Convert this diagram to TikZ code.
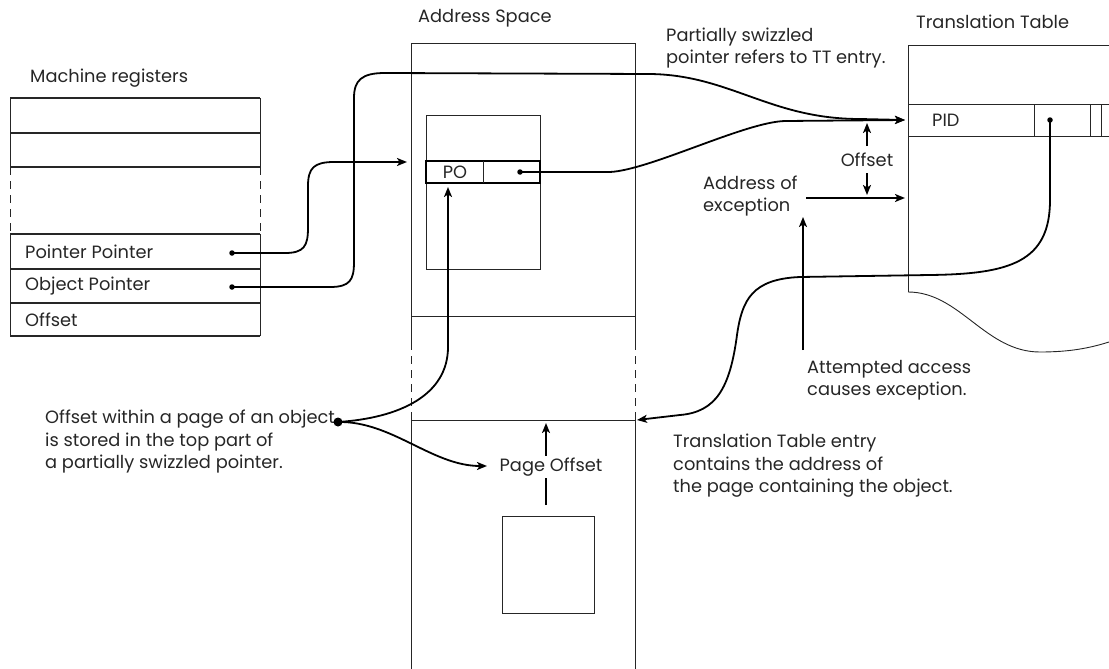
\documentclass[tikz,border=0pt]{standalone}
\usepackage{fontspec}
\setmainfont{Poppins}
\usetikzlibrary{arrows.meta}
\begin{document}
\begin{tikzpicture}[x=1pt,y=-1pt,
  box/.style={line width=0.9pt, draw=black!85},
  thickbox/.style={line width=1.3pt, draw=black},
  dashbox/.style={box, dash pattern=on 8pt off 6pt},
  conn/.style={line width=1.8pt, draw=black},
  arr/.style={conn, -{Stealth[length=10pt,width=8pt,inset=2.5pt]}},
  lbl/.style={font=\fontsize{17.8}{22.5}\selectfont, inner sep=0pt, text=black!85, align=left},
  dot/.style={circle, fill=black, inner sep=0pt, minimum size=5.5pt},
  bigdot/.style={circle, fill=black, inner sep=0pt, minimum size=9pt}
]
\useasboundingbox (0,0) rectangle (1109,669);

% ---------- Machine registers ----------
\node[lbl, anchor=west] (mrtitle) at (30,78) {Machine registers};
\foreach \yy in {98,133,167,234,269,303,336} \draw[box, line width=1.1pt] (10,\yy) -- (260,\yy);
\draw[box] (10,98) -- (10,167) (260,98) -- (260,167) (10,234) -- (10,336) (260,234) -- (260,336);
\draw[dashbox] (10,167) -- (10,234) (260,167) -- (260,234);
\node[lbl, anchor=west] (rpp) at (25,252) {Pointer Pointer};
\node[lbl, anchor=west] (rop) at (25,286) {Object Pointer};
\node[lbl, anchor=west] (roff) at (25,320) {Offset};
\node[dot] (pp) at (232,253) {};
\node[dot] (op) at (232,287) {};

% ---------- Address space ----------
\node[lbl, anchor=west] (astitle) at (418,18) {Address Space};
\draw[box] (411,669) -- (411,420) (411,342) -- (411,43) -- (635,43) -- (635,342) (635,420) -- (635,669);
\draw[dashbox] (411,342) -- (411,420) (635,342) -- (635,420);
\draw[box] (411,316) -- (635,316) (411,420) -- (635,420);
% object
\draw[box] (426,115) rectangle (540,269);
\draw[thickbox] (426,161) rectangle (540,183);
\draw[box] (483,161) -- (483,183);
\node[lbl] (potext) at (455,172) {PO};
\node[dot] (podot) at (520,172) {};
% page box
\draw[box] (502,516) rectangle (594,613);
\coordinate (pgtop) at (546,423);
\draw[arr] (546,505) -- (pgtop);
\node[lbl, fill=white, inner sep=1.5pt] (pgoff) at (551,467) {Page Offset};

% ---------- Translation table ----------
\node[lbl, anchor=west] (tttitle) at (916,22) {Translation Table};
\draw[box] (1109,45) -- (908,45) -- (908,292);
\draw[box] (908,292) .. controls (960,292) and (985,352) .. (1040,352) .. controls (1070,352) and (1090,348) .. (1109,342);
\draw[box] (908,104) -- (1109,104) (908,136) -- (1109,136);
\draw[box] (1034,104) -- (1034,136) (1090,104) -- (1090,136) (1101,104) -- (1101,136);
\node[lbl, anchor=west] (pidtext) at (932,120) {PID};
\node[dot] (piddot) at (1050,120) {};
\coordinate (ttentry) at (905,120);
\coordinate (ttexc) at (905,198);

% ---------- labels ----------
\node[lbl, anchor=west] (partial) at (666,48) {Partially swizzled\\pointer refers to TT entry.};
\node[lbl] (offlbl) at (867,160) {Offset};
\node[lbl, anchor=west] (addrexc) at (703,196) {Address of\\exception};
\node[lbl, anchor=west] (attempt) at (807,380) {Attempted access\\causes exception.};
\node[lbl, anchor=west] (ttentrylbl) at (673,466) {Translation Table entry\\contains the address of\\the page containing the object.};
\node[lbl, anchor=west] (offwithin) at (45,442) {Offset within a page of an object\\is stored in the top part of\\a partially swizzled pointer.};
\node[bigdot] (objdot) at (338,422) {};

% ---------- connectors ----------
\coordinate (asin) at (407,162);
\draw[arr] (pp.center) -- (285,253) .. controls (304,253) and (308,246) .. (308,228) -- (308,186) .. controls (308,168) and (314,162) .. (334,162) -- (asin);
\draw[arr] (op.center) -- (330,287) .. controls (350,287) and (354,280) .. (354,262) -- (354,98) .. controls (354,80) and (362,73) .. (385,73) -- (650,74) .. controls (730,75) and (770,119) .. (860,119) -- (ttentry);
\draw[arr] (podot.center) -- (610,172) .. controls (650,170) and (745,122) .. (785,121) -- (ttentry);
\coordinate (aspage) at (637,420);
\draw[arr] (piddot.center) -- (1050,200) .. controls (1050,262) and (1010,274) .. (930,275) -- (800,277) .. controls (752,279) and (742,300) .. (737,335) .. controls (730,388) and (716,412) .. (680,415) -- (aspage);
\coordinate (pobot) at (448,187);
\draw[arr] (objdot.center) .. controls (400,418) and (448,395) .. (448,347) -- (pobot);
\coordinate (pgleft) at (487,466);
\draw[arr] (objdot.center) .. controls (392,421) and (432,466) .. (pgleft);
\draw[arr] (867,146) -- (867,123);
\draw[arr] (867,173) -- (867,195);
\draw[arr] (806,198) -- (ttexc);
\draw[arr] (803,350) -- (803,217);
\end{tikzpicture}
\end{document}
